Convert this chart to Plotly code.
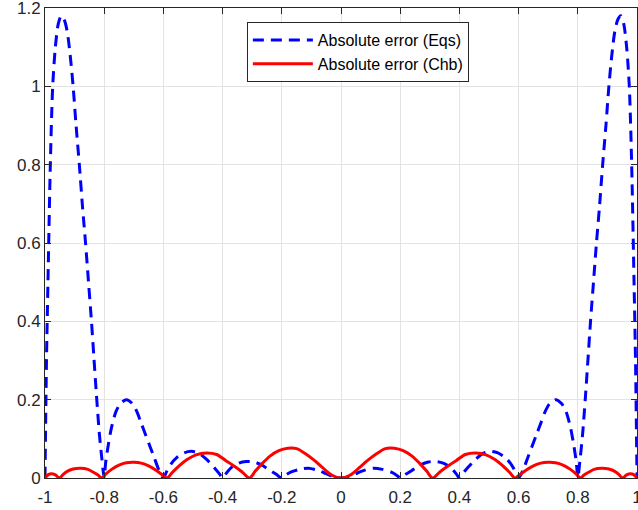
import plotly.graph_objects as go

# Absolute error, equispaced interpolation
x_eqs = [-1.0, -0.995, -0.99, -0.982, -0.974, -0.965, -0.955, -0.945, -0.935, -0.925,
         -0.915, -0.905, -0.895, -0.884, -0.873, -0.863, -0.853, -0.843, -0.835, -0.826,
         -0.816, -0.808, -0.8,
         -0.795, -0.785, -0.775, -0.76, -0.745, -0.725, -0.705, -0.69, -0.675, -0.66,
         -0.645, -0.63, -0.615, -0.6,
         -0.59, -0.575, -0.555, -0.53, -0.505, -0.48, -0.455, -0.43, -0.41, -0.4,
         -0.39, -0.37, -0.345, -0.32, -0.295, -0.27, -0.245, -0.22, -0.2,
         -0.19, -0.17, -0.14, -0.11, -0.08, -0.05, -0.025, 0.0,
         0.025, 0.05, 0.08, 0.11, 0.14, 0.17, 0.19,
         0.2, 0.22, 0.245, 0.27, 0.295, 0.32, 0.345, 0.37, 0.39,
         0.4, 0.41, 0.43, 0.455, 0.48, 0.505, 0.53, 0.555, 0.575, 0.59,
         0.6, 0.615, 0.63, 0.645, 0.66, 0.675, 0.69, 0.705, 0.725, 0.745, 0.76, 0.775,
         0.785, 0.795,
         0.8, 0.808, 0.816, 0.826, 0.835, 0.843, 0.853, 0.863, 0.873, 0.884, 0.895,
         0.905, 0.915, 0.925, 0.935, 0.945, 0.955, 0.965, 0.974, 0.982, 0.99, 0.995, 1.0]
y_eqs = [0.0, 0.3, 0.5, 0.8, 1.0, 1.1, 1.16, 1.18, 1.17, 1.14,
         1.08, 1.0, 0.9, 0.8, 0.69, 0.6, 0.5, 0.4, 0.31, 0.21,
         0.11, 0.05, 0.0,
         0.04, 0.09, 0.13, 0.17, 0.19, 0.2, 0.19, 0.17, 0.14, 0.11,
         0.08, 0.05, 0.02, 0.0,
         0.015, 0.035, 0.052, 0.064, 0.068, 0.063, 0.048, 0.028, 0.01, 0.0,
         0.01, 0.027, 0.038, 0.042, 0.041, 0.034, 0.022, 0.01, 0.0,
         0.006, 0.015, 0.022, 0.025, 0.02, 0.011, 0.003, 0.0,
         0.003, 0.011, 0.02, 0.025, 0.022, 0.015, 0.006,
         0.0, 0.01, 0.022, 0.034, 0.041, 0.042, 0.038, 0.027, 0.01,
         0.0, 0.01, 0.028, 0.048, 0.063, 0.068, 0.064, 0.052, 0.035, 0.015,
         0.0, 0.02, 0.05, 0.08, 0.11, 0.14, 0.17, 0.19, 0.2, 0.19, 0.17, 0.13,
         0.09, 0.04,
         0.0, 0.05, 0.11, 0.21, 0.31, 0.4, 0.5, 0.6, 0.69, 0.8, 0.9,
         1.0, 1.08, 1.14, 1.17, 1.18, 1.16, 1.1, 1.0, 0.8, 0.5, 0.3, 0.0]

# Absolute error, Chebyshev interpolation
x_chb = [-1.0, -0.99, -0.978, -0.965, -0.951,
         -0.94, -0.925, -0.905, -0.88, -0.855, -0.835, -0.82, -0.809,
         -0.795, -0.775, -0.75, -0.725, -0.7, -0.675, -0.65, -0.625, -0.605, -0.588,
         -0.57, -0.545, -0.52, -0.49, -0.455, -0.42, -0.39, -0.36, -0.335, -0.309,
         -0.29, -0.265, -0.24, -0.21, -0.18, -0.15, -0.12, -0.09, -0.06, -0.03, 0.0,
         0.03, 0.06, 0.09, 0.12, 0.15, 0.18, 0.21, 0.24, 0.265, 0.29,
         0.309, 0.335, 0.36, 0.39, 0.42, 0.455, 0.49, 0.52, 0.545, 0.57,
         0.588, 0.605, 0.625, 0.65, 0.675, 0.7, 0.725, 0.75, 0.775, 0.795,
         0.809, 0.82, 0.835, 0.855, 0.88, 0.905, 0.925, 0.94,
         0.951, 0.965, 0.978, 0.99, 1.0]
y_chb = [0.0, 0.008, 0.011, 0.008, 0.0,
         0.008, 0.017, 0.023, 0.025, 0.022, 0.014, 0.007, 0.0,
         0.01, 0.022, 0.033, 0.039, 0.04, 0.038, 0.031, 0.02, 0.009, 0.0,
         0.014, 0.032, 0.047, 0.059, 0.064, 0.06, 0.045, 0.03, 0.016, 0.0,
         0.017, 0.038, 0.056, 0.07, 0.076, 0.075, 0.062, 0.045, 0.025, 0.007, 0.0,
         0.007, 0.025, 0.045, 0.062, 0.075, 0.076, 0.07, 0.056, 0.038, 0.017,
         0.0, 0.016, 0.03, 0.045, 0.06, 0.064, 0.059, 0.047, 0.032, 0.014,
         0.0, 0.009, 0.02, 0.031, 0.038, 0.04, 0.039, 0.033, 0.022, 0.01,
         0.0, 0.007, 0.014, 0.022, 0.025, 0.023, 0.017, 0.008,
         0.0, 0.008, 0.011, 0.008, 0.0]

x_ticks = [-1, -0.8, -0.6, -0.4, -0.2, 0, 0.2, 0.4, 0.6, 0.8, 1]
x_tick_text = ["-1", "-0.8", "-0.6", "-0.4", "-0.2", "0", "0.2", "0.4", "0.6", "0.8", "1"]
y_ticks = [0, 0.2, 0.4, 0.6, 0.8, 1, 1.2]
y_tick_text = ["0", "0.2", "0.4", "0.6", "0.8", "1", "1.2"]

fig = go.Figure()
fig.add_trace(go.Scatter(
    x=x_eqs, y=y_eqs, mode="lines", name="Absolute error (Eqs)",
    line=dict(color="#0000ff", width=3, dash="11px,7px", shape="spline", smoothing=0.8),
))
fig.add_trace(go.Scatter(
    x=x_chb, y=y_chb, mode="lines", name="Absolute error (Chb)",
    line=dict(color="#ff0000", width=3, shape="spline", smoothing=0.8),
))

axis_common = dict(
    showgrid=True, gridcolor="#e3e3e3", gridwidth=1,
    showline=True, linecolor="#262626", linewidth=1, mirror="ticks",
    ticks="inside", ticklen=6, tickcolor="#262626",
    zeroline=False, automargin=False, ticklabeloverflow="allow",
    tickfont=dict(family="Liberation Sans, Arial, sans-serif", size=17, color="#262626"),
)

fig.update_layout(
    width=638, height=510,
    margin=dict(l=45, r=1, t=8, b=32),
    paper_bgcolor="white", plot_bgcolor="white",
    showlegend=True,
    legend=dict(
        x=0.341, y=0.970, xanchor="left", yanchor="top",
        bgcolor="white", bordercolor="#262626", borderwidth=1,
        font=dict(family="Liberation Sans, Arial, sans-serif", size=16, color="#000000"),
        tracegroupgap=0, itemwidth=60,
    ),
    xaxis=dict(range=[-1, 1], tickvals=x_ticks, ticktext=x_tick_text,
               ticklabelstandoff=4, **axis_common),
    yaxis=dict(range=[0, 1.2], tickvals=y_ticks, ticktext=y_tick_text, **axis_common),
)

fig.write_html(
    "out.html",
    config={"displayModeBar": False},
    post_script="document.body.style.margin='0';document.body.style.overflow='hidden';",
)
